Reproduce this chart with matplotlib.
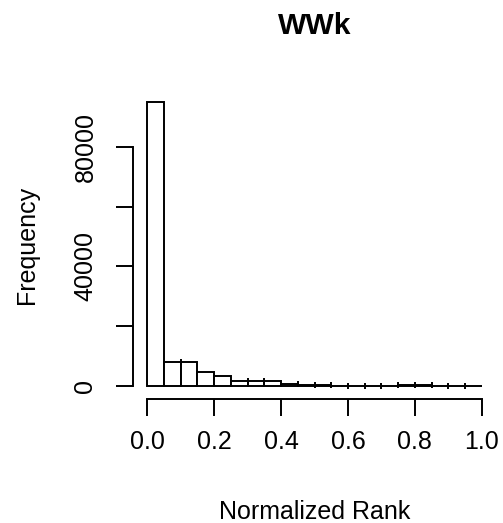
import numpy as np
import matplotlib
matplotlib.use("Agg")
import matplotlib.pyplot as plt

# Histogram of normalized ranks, 20 bins of width 0.05
bin_edges = [0.00, 0.05, 0.10, 0.15, 0.20, 0.25, 0.30, 0.35, 0.40, 0.45, 0.50,
             0.55, 0.60, 0.65, 0.70, 0.75, 0.80, 0.85, 0.90, 0.95, 1.00]
counts = [94900, 8000, 8000, 4800, 3300, 1700, 1700, 1700, 800, 400,
          200, 150, 120, 100, 100, 200, 200, 150, 100, 80]
x_ticks = [0.0, 0.2, 0.4, 0.6, 0.8, 1.0]
x_tick_labels = ["0.0", "0.2", "0.4", "0.6", "0.8", "1.0"]
y_ticks = [0, 20000, 40000, 60000, 80000]
y_tick_labels = ["0", "", "40000", "", "80000"]
title = "WWk"
x_label = "Normalized Rank"
y_label = "Frequency"

plt.rcParams["font.family"] = ["Liberation Sans", "DejaVu Sans"]
FS = 18
LW = 1.4

W, H = 503, 523
fig = plt.figure(figsize=(W / 100, H / 100), dpi=100)
# axes box in pixel terms (left, top, right, bottom)
l, t, r, b = 133.3, 91.0, 495.7, 399.0
ax = fig.add_axes([l / W, 1 - b / H, (r - l) / W, (b - t) / H])

edges = np.asarray(bin_edges)
cnt = np.asarray(counts, dtype=float)
ax.bar(edges[:-1], cnt, width=np.diff(edges), align="edge",
       facecolor="white", edgecolor="black", linewidth=LW)

# small end marks on shared bar edges where adjacent bars are level
inner = edges[1:-1]
left_c, right_c = cnt[:-1], cnt[1:]
level = np.abs(left_c - right_c) < 600
tops = np.maximum(left_c, right_c)
ax.plot(inner[level], tops[level], linestyle="none", marker="|",
        markersize=5, markeredgewidth=LW, color="black", clip_on=False)

ymax = cnt.max()
ax.set_xlim(-0.0418, 1.0418)
ax.set_ylim(-4350, ymax * 1.04)

for side in ("top", "right"):
    ax.spines[side].set_visible(False)
ax.spines["left"].set_bounds(y_ticks[0], y_ticks[-1])
ax.spines["bottom"].set_bounds(x_ticks[0], x_ticks[-1])
for side in ("left", "bottom"):
    ax.spines[side].set_linewidth(LW)

ax.set_xticks(x_ticks)
ax.set_xticklabels(x_tick_labels)
ax.set_yticks(y_ticks)
ax.set_yticklabels(y_tick_labels, rotation=90, va="center", ha="center")
ax.tick_params(axis="both", length=12.2, width=LW, labelsize=FS)
ax.tick_params(axis="y", pad=22.3)
ax.tick_params(axis="x", pad=10)

fig.text((l + r) / 2 / W, 1 - 26 / H, title, ha="center", va="center",
         fontsize=FS * 1.2, fontweight="bold")
fig.text((l + r) / 2 / W, 1 - 512 / H, x_label, ha="center", va="center",
         fontsize=FS)
fig.text(27 / W, 1 - 245 / H, y_label, ha="center", va="center",
         rotation=90, fontsize=FS)

fig.savefig("out.png", dpi=100)
